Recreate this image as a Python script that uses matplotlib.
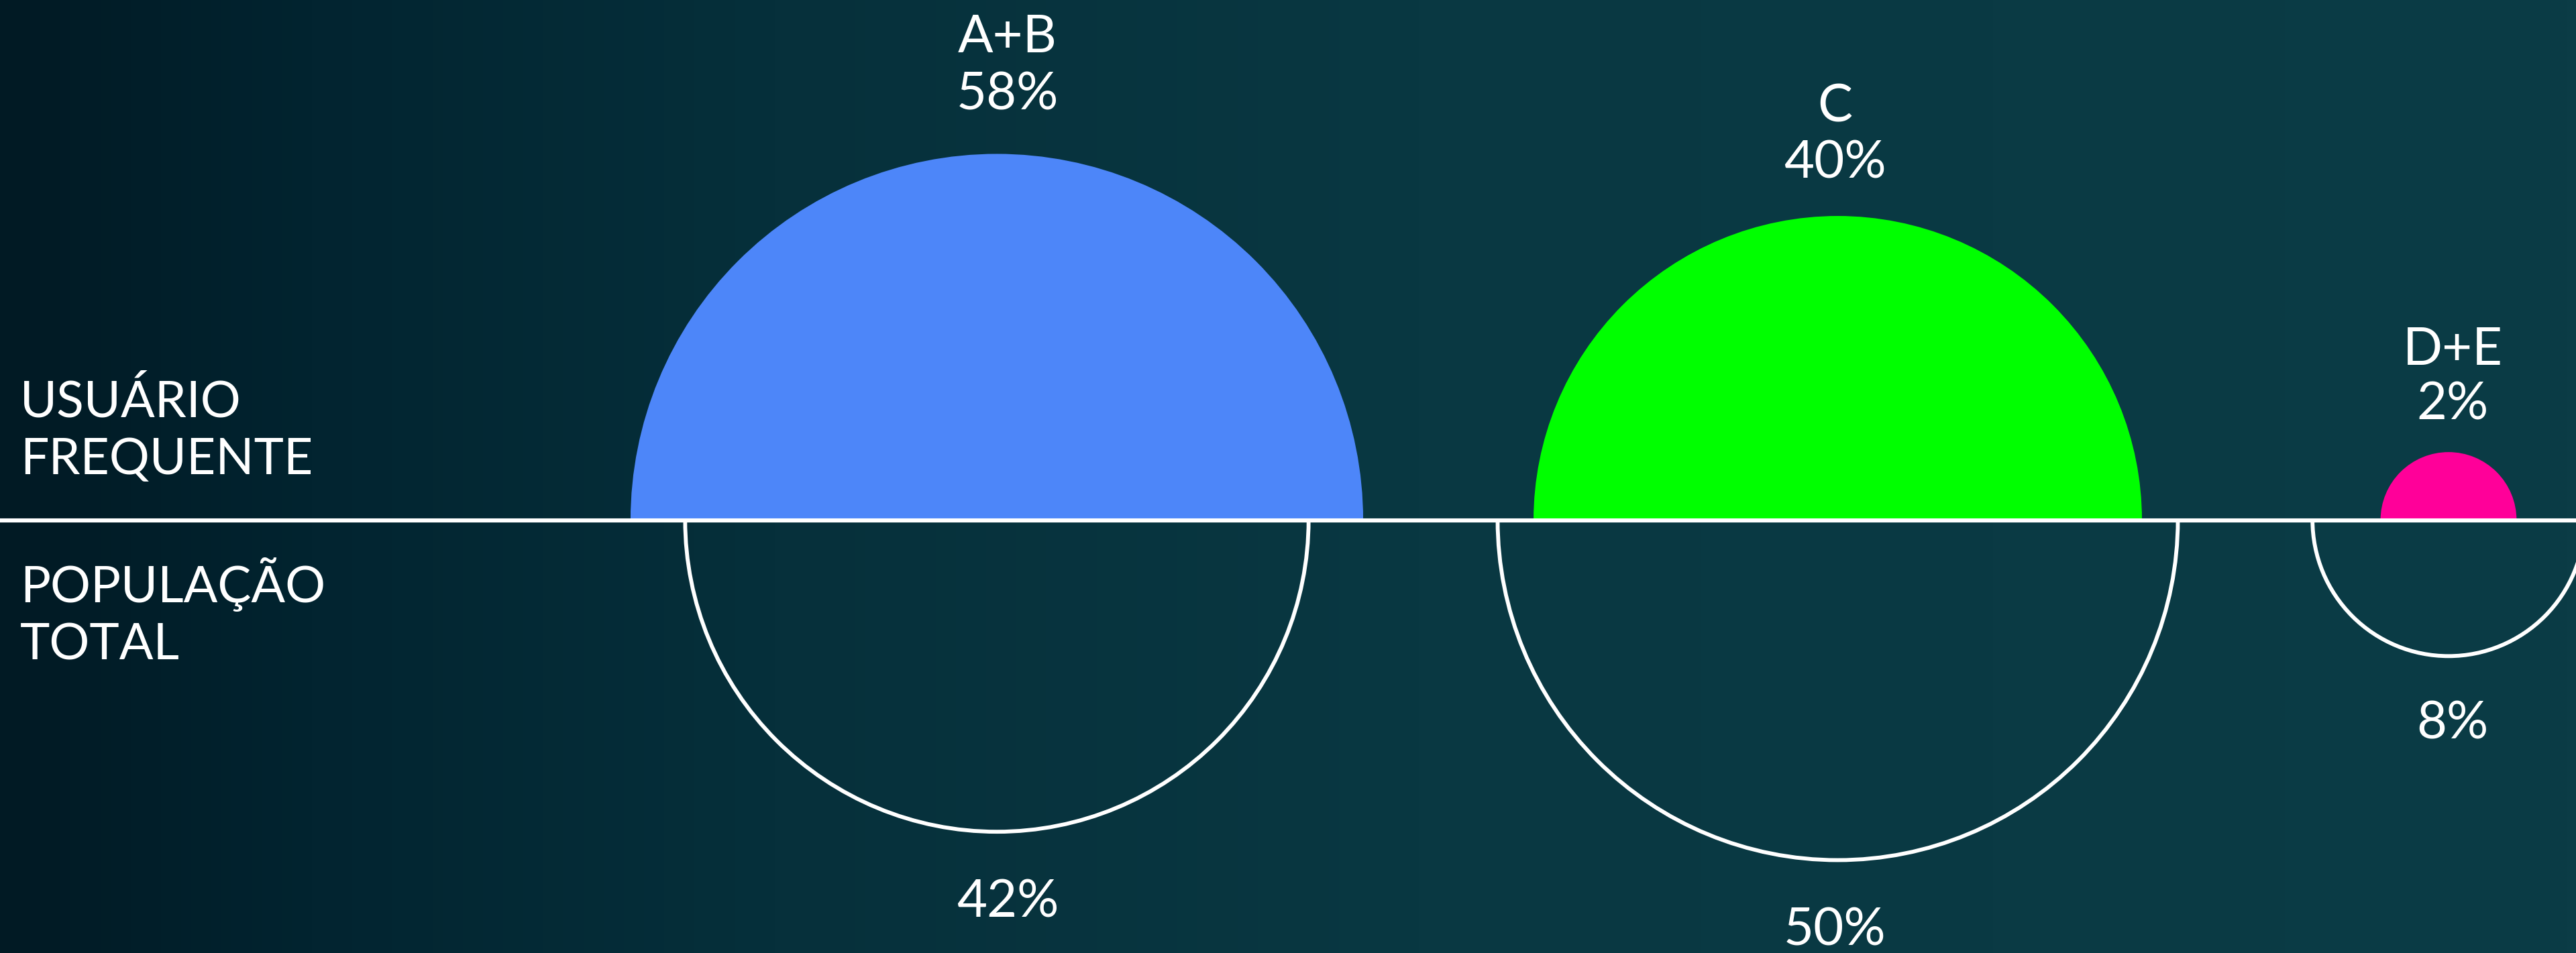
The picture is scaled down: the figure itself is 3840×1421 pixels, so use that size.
import matplotlib

matplotlib.use("Agg")

import matplotlib.pyplot as plt
import numpy as np
from matplotlib.colors import LinearSegmentedColormap
from matplotlib.patches import Arc, Wedge

# data
groups = ["A+B", "C", "D+E"]
frequent_users = [58, 40, 2]       # % of frequent users (top, filled)
total_population = [42, 50, 8]     # % of total population (bottom, outline)
group_colors = ["#4d86f9", "#00ff00", "#ff0099"]
row_labels = ["USUÁRIO\nFREQUENTE", "POPULAÇÃO\nTOTAL"]

# layout, in output pixels (y measured from the top of the picture)
W, H = 3841, 1421
DPI = 100
BASE_PX = 775.5
CENTERS_X = [1486, 2739.5, 3650]
TEXT_DX = [16, -4, 6]
PX_PER_SQRT_PCT = 71.7
TOP_BASELINES = [(78, 163), (181, 266), (544, 625)]
BOTTOM_BASELINES = [1367, 1410, 1102]
ROW_LABEL_BASELINES = [(622, 707), (898, 983)]

FONT = "Lato"
TEXT_SIZE = 56
LABEL_SIZE = 54
WHITE = "#ffffff"


def y_of(px: float) -> float:
    return H - px


fig = plt.figure(figsize=(W / DPI, H / DPI), dpi=DPI)
ax = fig.add_axes([0, 0, 1, 1])
ax.set_xlim(0, W)
ax.set_ylim(0, H)
ax.set_aspect("equal")
ax.axis("off")

# dark teal background, lighter towards the right
bg_cmap = LinearSegmentedColormap.from_list(
    "bg",
    [(0.0, "#011a24"), (0.12, "#022430"), (0.3, "#06303b"),
     (0.55, "#093842"), (1.0, "#0b3c46")],
)
grad = np.linspace(0, 1, 512).reshape(1, -1)
ax.imshow(grad, cmap=bg_cmap, extent=[0, W, 0, H], aspect="auto", zorder=0)

base_y = y_of(BASE_PX)

for i, name in enumerate(groups):
    cx = CENTERS_X[i]
    tx = cx + TEXT_DX[i]
    r_top = PX_PER_SQRT_PCT * np.sqrt(frequent_users[i])
    r_bot = PX_PER_SQRT_PCT * np.sqrt(total_population[i])

    ax.add_patch(Wedge((cx, base_y), r_top, 0, 180, facecolor=group_colors[i],
                       edgecolor="none", zorder=2))
    ax.add_patch(Arc((cx, base_y), 2 * r_bot, 2 * r_bot, theta1=180, theta2=360,
                     color=WHITE, linewidth=4.2, zorder=3))

    b1, b2 = TOP_BASELINES[i]
    ax.text(tx, y_of(b1), name, ha="center", va="baseline", color=WHITE,
            fontsize=TEXT_SIZE, family=FONT, zorder=4)
    ax.text(tx, y_of(b2), f"{frequent_users[i]}%", ha="center", va="baseline",
            color=WHITE, fontsize=TEXT_SIZE, family=FONT, zorder=4)
    ax.text(tx, y_of(BOTTOM_BASELINES[i]), f"{total_population[i]}%", ha="center",
            va="baseline", color=WHITE, fontsize=TEXT_SIZE, family=FONT, zorder=4)

# baseline across the whole width
ax.axhline(base_y, color=WHITE, linewidth=4.4, zorder=5)

for label, (b1, b2) in zip(row_labels, ROW_LABEL_BASELINES):
    line1, line2 = label.split("\n")
    ax.text(30, y_of(b1), line1, ha="left", va="baseline", color=WHITE,
            fontsize=LABEL_SIZE, family=FONT, zorder=4)
    ax.text(30, y_of(b2), line2, ha="left", va="baseline", color=WHITE,
            fontsize=LABEL_SIZE, family=FONT, zorder=4)

fig.savefig("out.png", dpi=DPI)
